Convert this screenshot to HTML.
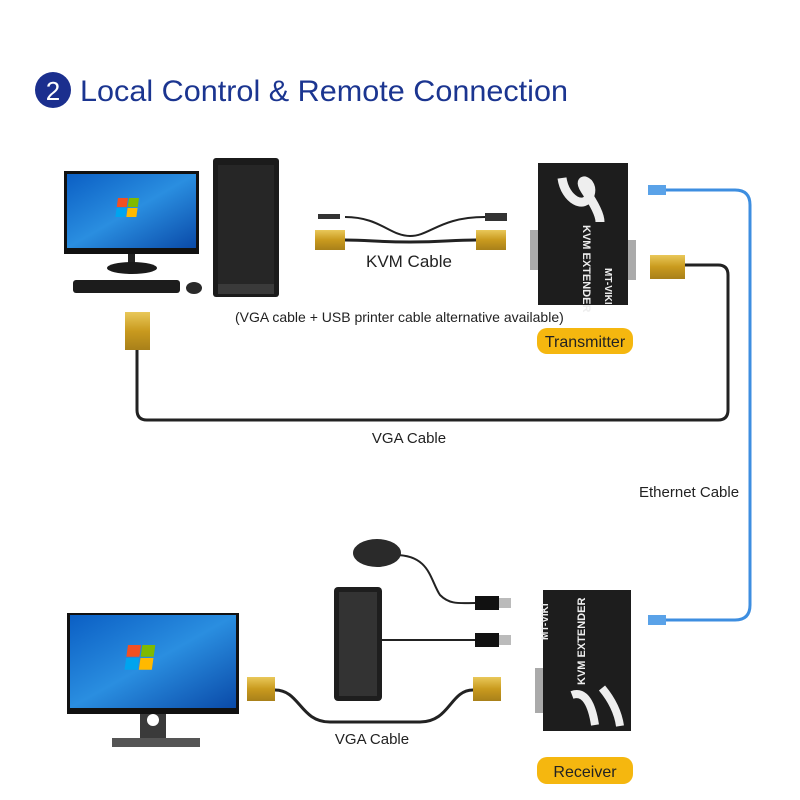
<!DOCTYPE html>
<html><head><style>
html,body{margin:0;padding:0;background:#fff;}
svg{display:block;font-family:"Liberation Sans","DejaVu Sans",sans-serif;}
</style></head><body>
<svg width="800" height="800" viewBox="0 0 800 800" xmlns="http://www.w3.org/2000/svg">
<defs>
<linearGradient id="scr" x1="0" y1="0" x2="1" y2="1"><stop offset="0" stop-color="#0b5fc4"/><stop offset="0.5" stop-color="#2a8ee0"/><stop offset="1" stop-color="#0a4aa8"/></linearGradient>
<linearGradient id="gold" x1="0" y1="0" x2="0" y2="1"><stop offset="0" stop-color="#e9c85a"/><stop offset="0.5" stop-color="#c99a1e"/><stop offset="1" stop-color="#a8801a"/></linearGradient>
<g id="win"><rect x="0" y="0" width="10" height="9" fill="#f25022"/><rect x="11" y="0" width="10" height="9" fill="#7fba00"/><rect x="0" y="10" width="10" height="9" fill="#00a4ef"/><rect x="11" y="10" width="10" height="9" fill="#ffb900"/></g>
</defs>
<circle cx="53" cy="90" r="18" fill="#1b2f8e"/>
<text x="53" y="100" font-size="26" fill="#fff" text-anchor="middle">2</text>
<text x="80" y="101" font-size="30" fill="#1b3590" textLength="488" lengthAdjust="spacingAndGlyphs" font-family="Liberation Sans Narrow, Liberation Sans, sans-serif">Local Control &amp; Remote Connection</text>

<rect x="64" y="171" width="135" height="83" fill="#111"/>
<rect x="67" y="174" width="129" height="74" fill="url(#scr)"/>
<use href="#win" transform="translate(118,198) skewX(-8)"/>
<rect x="128" y="254" width="7" height="10" fill="#222"/>
<ellipse cx="132" cy="268" rx="25" ry="6" fill="#1a1a1a"/>
<rect x="73" y="280" width="107" height="13" rx="3" fill="#1c1c1c"/>
<ellipse cx="194" cy="288" rx="8" ry="6" fill="#2a2a2a"/>
<rect x="213" y="158" width="66" height="139" rx="3" fill="#1b1b1b"/>
<rect x="218" y="165" width="56" height="120" fill="#262626"/>
<rect x="218" y="284" width="56" height="10" fill="#3a3a3a"/>

<path d="M345 240 C370 240 375 242 410 242 C445 242 450 240 476 240" stroke="#222" stroke-width="3" fill="none"/>
<path d="M345 217 C380 217 390 236 410 236 C430 236 440 217 485 217" stroke="#222" stroke-width="2" fill="none"/>
<rect x="318" y="214" width="22" height="5" fill="#333"/>
<rect x="315" y="230" width="30" height="20" fill="url(#gold)"/>
<rect x="485" y="213" width="22" height="8" fill="#333"/>
<rect x="476" y="230" width="30" height="20" fill="url(#gold)"/>
<text x="409" y="267" font-size="17" fill="#222" text-anchor="middle">KVM Cable</text>
<text x="235" y="322" font-size="14" fill="#222">(VGA cable + USB printer cable alternative available)</text>

<rect x="530" y="230" width="10" height="40" fill="#aaa"/>
<rect x="626" y="240" width="10" height="40" fill="#aaa"/>
<rect x="538" y="163" width="90" height="142" fill="#1d1d1d"/>
<path d="M562 178 C565 200 585 210 590 195 C595 180 575 175 585 190 C595 205 600 215 600 222" stroke="#eee" stroke-width="9" fill="none"/>
<text transform="translate(583,225) rotate(90)" font-size="11" fill="#eee" font-weight="bold">KVM EXTENDER</text>
<text transform="translate(605,268) rotate(90)" font-size="10" fill="#eee" font-weight="bold">MT-VIKI</text>
<rect x="537" y="328" width="96" height="26" rx="10" fill="#f5b70f"/>
<text x="585" y="347" font-size="16" fill="#222" text-anchor="middle">Transmitter</text>

<path d="M665 190 L735 190 Q750 190 750 205 L750 605 Q750 620 735 620 L665 620" stroke="#3d8ee0" stroke-width="3" fill="none"/>
<rect x="648" y="185" width="18" height="10" fill="#5aa2e8"/>
<rect x="648" y="615" width="18" height="10" fill="#5aa2e8"/>
<text x="639" y="497" font-size="15" fill="#222">Ethernet Cable</text>

<path d="M685 265 L718 265 Q728 265 728 275 L728 410 Q728 420 718 420 L147 420 Q137 420 137 410 L137 345" stroke="#222" stroke-width="3" fill="none"/>
<rect x="650" y="255" width="35" height="24" fill="url(#gold)"/>
<rect x="125" y="312" width="25" height="38" fill="url(#gold)"/>
<text x="409" y="443" font-size="15" fill="#222" text-anchor="middle">VGA Cable</text>

<rect x="67" y="613" width="172" height="101" fill="#111"/>
<rect x="70" y="615" width="166" height="93" fill="url(#scr)"/>
<use href="#win" transform="translate(128,645) scale(1.3) skewX(-8)"/>
<rect x="140" y="714" width="26" height="26" fill="#3a3a3a"/>
<circle cx="153" cy="720" r="6" fill="#fff"/>
<rect x="112" y="738" width="88" height="9" fill="#555"/>

<path d="M395 555 C430 555 430 580 440 595 C450 605 460 603 475 603" stroke="#222" stroke-width="2" fill="none"/>
<ellipse cx="377" cy="553" rx="24" ry="14" fill="#2a2a2a"/>
<rect x="334" y="587" width="48" height="114" rx="4" fill="#1e1e1e"/>
<rect x="339" y="592" width="38" height="104" fill="#333"/>
<line x1="382" y1="640" x2="475" y2="640" stroke="#222" stroke-width="2"/>
<rect x="475" y="596" width="24" height="14" fill="#111"/><rect x="499" y="598" width="12" height="10" fill="#bbb"/>
<rect x="475" y="633" width="24" height="14" fill="#111"/><rect x="499" y="635" width="12" height="10" fill="#bbb"/>

<path d="M275 690 C300 690 300 722 330 722 L420 722 C450 722 450 690 473 690" stroke="#222" stroke-width="3" fill="none"/>
<rect x="247" y="677" width="28" height="24" fill="url(#gold)"/>
<rect x="473" y="677" width="28" height="24" fill="url(#gold)"/>
<text x="372" y="744" font-size="15" fill="#222" text-anchor="middle">VGA Cable</text>

<rect x="535" y="668" width="10" height="45" fill="#aaa"/>
<rect x="543" y="590" width="88" height="141" fill="#1d1d1d"/>
<path d="M572 695 C585 690 592 705 595 725 M602 688 C612 700 618 712 620 726" stroke="#eee" stroke-width="8" fill="none"/>
<text transform="translate(548,640) rotate(-90)" font-size="10" fill="#eee" font-weight="bold">MT-VIKI</text>
<text transform="translate(585,685) rotate(-90)" font-size="11" fill="#eee" font-weight="bold">KVM EXTENDER</text>
<rect x="537" y="757" width="96" height="27" rx="10" fill="#f5b70f"/>
<text x="585" y="777" font-size="16" fill="#222" text-anchor="middle">Receiver</text>
</svg>
</body></html>
